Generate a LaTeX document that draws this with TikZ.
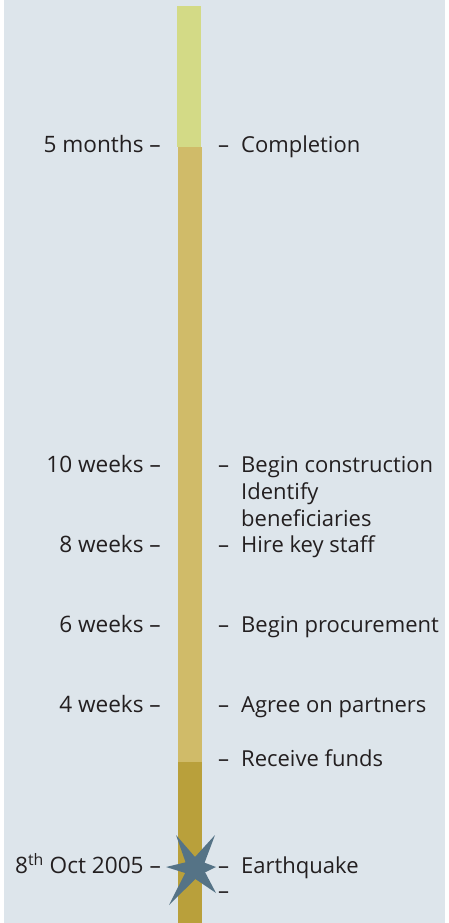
\documentclass[tikz,border=0pt]{standalone}
\usepackage{fontspec}
\setmainfont{Open Sans}
\definecolor{bg}{HTML}{DDE5EB}
\definecolor{segA}{HTML}{D3DA86}
\definecolor{segB}{HTML}{D0BB69}
\definecolor{segC}{HTML}{B9A03B}
\definecolor{starc}{HTML}{557386}
\definecolor{txt}{HTML}{231F20}
\begin{document}
\begin{tikzpicture}[x=1pt,y=-1pt,
  lbl/.style={font=\fontsize{22.6}{26.5}\selectfont, text=txt, inner sep=0pt, anchor=base east},
  evt/.style={font=\fontsize{22}{26.5}\selectfont, text=txt, inner sep=0pt, anchor=base west}]
\useasboundingbox (0,0) rectangle (448,923);
\fill[white] (0,0) rectangle (448,923);
\fill[bg] (4,0) rectangle (445,923);
% timeline bar
\fill[segA] (177,6) rectangle (201,147);
\fill[segB] (178,147) rectangle (202,762);
\fill[segC] (178,762) rectangle (202,923);
% earthquake star
\fill[starc] (216,867) -- (205.1,872.3) -- (216,893) -- (195.4,879) -- (169,905)
  -- (185.2,873) -- (166,867) -- (185.6,862.3) -- (176,835) -- (195,857)
  -- (215,835) -- (204.6,862.7) -- cycle;
% left labels
\node[lbl] (l5m) at (161,152) {5 months –};
\node[lbl] (l10w) at (161,472) {10 weeks –};
\node[lbl] (l8w) at (161,552) {8 weeks –};
\node[lbl] (l6w) at (161,632) {6 weeks –};
\node[lbl] (l4w) at (161,712) {4 weeks –};
\node[lbl] (lq) at (161,873) {8\textsuperscript{th} Oct 2005 –};
% right events
\node[evt] (ecomp) at (218,152) {\makebox[23pt][l]{–}Completion};
\node[evt] (ebc) at (218,472) {\makebox[23pt][l]{–}Begin construction};
\node[evt] (eid1) at (241,499) {Identify};
\node[evt] (eid2) at (241,526) {beneficiaries};
\node[evt] (ehire) at (218,552) {\makebox[23pt][l]{–}Hire key staff};
\node[evt] (eproc) at (218,632) {\makebox[23pt][l]{–}Begin procurement};
\node[evt] (epart) at (218,712) {\makebox[23pt][l]{–}Agree on partners};
\node[evt] (efund) at (218,766) {\makebox[23pt][l]{–}Receive funds};
\node[evt] (equake) at (218,873) {\makebox[23pt][l]{–}Earthquake};
\node[evt] (edash) at (218,898) {–};
\end{tikzpicture}
\end{document}
